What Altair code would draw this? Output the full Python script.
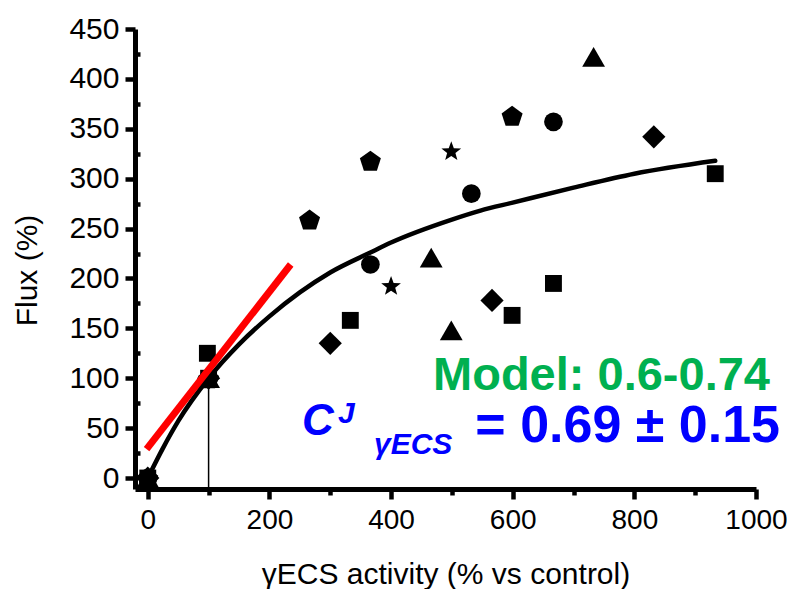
import altair as alt
import pandas as pd

# ---- data ----
sq_x = [0, 100, 98, 333, 599, 667, 933]
sq_y = [0, 100, 125, 158, 163, 195, 305]
ci_x = [0, 100, 366, 532, 667]
ci_y = [0, 100, 214, 285, 357]
tr_x = [0, 100, 466, 499, 733]
tr_y = [0, 100, 221, 148, 422]
di_x = [0, 100, 300, 566, 832]
di_y = [0, 100, 135, 178, 342]
pe_x = [0, 100, 266, 366, 599]
pe_y = [0, 100, 259, 318, 363]
st_x = [0, 100, 400, 499]
st_y = [0, 100, 193, 328]

curve_x = [0, 25, 50, 100, 150, 200, 250, 300, 366, 400, 500, 547, 600, 700, 800, 933]
curve_y = [0, 30, 57, 100, 134, 162, 186, 206, 226, 236, 259, 268, 276, 291, 305, 318]

red_x = [-2, 235]
red_y = [29, 214]

ref_x = [100]
ref_y = [100]

x_ticks = [0, 200, 400, 600, 800, 1000]
x_minor = [100, 300, 500, 700, 900]
y_ticks = [0, 50, 100, 150, 200, 250, 300, 350, 400, 450]
y_minor = [25, 75, 125, 175, 225, 275, 325, 375, 425]
x_dom = [-21, 1000]
y_dom = [-11, 450]

pent = "M0,-0.905L0.951,-0.214L0.588,0.904L-0.588,0.904L-0.951,-0.214Z"
star = ("M0,-0.905L0.247,-0.245L0.951,-0.214L0.400,0.225L0.588,0.904L0,0.515"
        "L-0.588,0.904L-0.400,0.225L-0.951,-0.214L-0.247,-0.245Z")

curve = pd.DataFrame({"x": curve_x, "y": curve_y})
red = pd.DataFrame({"x": red_x, "y": red_y})
ref = pd.DataFrame({"x": ref_x, "y": ref_y, "y0": [y_dom[0]]})

FONT = "Liberation Sans"
AW = 5     # axis line width
TW = 4.5   # tick width
xs = alt.Scale(domain=x_dom, nice=False, zero=False)
ys = alt.Scale(domain=y_dom, nice=False, zero=False)

x_axis = alt.Axis(orient="bottom", values=x_ticks, format="d",
                  title="γECS activity (% vs control)",
                  grid=False, domainColor="black", domainWidth=AW, tickColor="black",
                  tickWidth=TW, tickSize=10, labelFont=FONT, labelFontSize=28,
                  labelColor="black", labelPadding=7, labelFlush=False, titleFont=FONT,
                  titleFontSize=30, titleFontWeight="normal", titleColor="black",
                  titleBaseline="alphabetic", titleY=94)
y_axis = alt.Axis(orient="left", values=y_ticks, format="d", title="Flux (%)", grid=False,
                  domainColor="black", domainWidth=AW, tickColor="black", tickWidth=TW,
                  tickSize=10, labelFont=FONT, labelFontSize=30, labelColor="black",
                  labelPadding=6, labelFlush=False, titleFont=FONT, titleFontSize=30,
                  titleFontWeight="normal", titleColor="black", titleAngle=-90,
                  titleAlign="center", titleBaseline="bottom", titleX=-93, titleY=241)
minor_x_axis = alt.Axis(orient="bottom", values=x_minor, labels=False, domain=False,
                        grid=False, title=None, tickColor="black", tickWidth=TW, tickSize=6)
minor_y_axis = alt.Axis(orient="left", values=y_minor, labels=False, domain=False,
                        grid=False, title=None, tickColor="black", tickWidth=TW,
                        tickSize=3, offset=-5)

rule = alt.Chart(ref).mark_rule(color="black", strokeWidth=1.5).encode(
    x=alt.X("x:Q", scale=xs, axis=minor_x_axis),
    y=alt.Y("y:Q", scale=ys, axis=None),
    y2="y0:Q",
)
line = alt.Chart(curve).mark_line(color="black", strokeWidth=4.5, interpolate="monotone",
                                  strokeCap="round").encode(
    x=alt.X("x:Q", scale=xs, axis=None),
    y=alt.Y("y:Q", scale=ys, axis=minor_y_axis),
)


def pts_layer(xv, yv, shape, size, xa=None, ya=None):
    return alt.Chart(pd.DataFrame({"x": xv, "y": yv})).mark_point(
        filled=True, opacity=1, color="black", shape=shape, size=size).encode(
        x=alt.X("x:Q", scale=xs, axis=xa),
        y=alt.Y("y:Q", scale=ys, axis=ya),
    )


p_sq = pts_layer(sq_x, sq_y, "square", 285, x_axis, y_axis)
p_ci = pts_layer(ci_x, ci_y, "circle", 350)
p_tr = pts_layer(tr_x, tr_y, "triangle-up", 520)
p_di = pts_layer(di_x, di_y, "diamond", 540)
p_pe = pts_layer(pe_x, pe_y, pent, 488)
p_st = pts_layer(st_x, st_y, star, 430)

redline = alt.Chart(red).mark_line(color="#FF0000", strokeWidth=7, strokeCap="butt").encode(
    x=alt.X("x:Q", scale=xs, axis=None),
    y=alt.Y("y:Q", scale=ys, axis=None),
)


def label(txt, px, py, size, color, align, style="normal"):
    return alt.Chart(pd.DataFrame({"t": [txt]})).mark_text(
        font=FONT, fontSize=size, fontWeight="bold", fontStyle=style, color=color,
        align=align, baseline="alphabetic").encode(
        text="t:N", x=alt.value(px), y=alt.value(py))


t1 = label("Model: 0.6-0.74", 635, 361, 47, "#00B050", "right")
t2 = label("= 0.69 ± 0.15", 645, 413, 52, "#0000FF", "right")
t3 = label("C", 167, 406, 44, "#0000FF", "left", "italic")
t4 = label("J", 203, 394, 30, "#0000FF", "left", "italic")
t5 = label("γECS", 239, 425, 30, "#0000FF", "left", "italic")

chart = alt.layer(rule, line, p_sq, p_ci, p_tr, p_di, p_pe, p_st, redline,
                  t1, t2, t3, t4, t5).resolve_axis(
    x="independent", y="independent"
).properties(
    width=621, height=460,
    autosize=alt.AutoSizeParams(type="none"),
    padding={"left": 127, "top": 21, "right": 31, "bottom": 100},
    background="white",
).configure_view(stroke=None)

chart.save("out.html", embed_options={"renderer": "svg", "actions": False})
